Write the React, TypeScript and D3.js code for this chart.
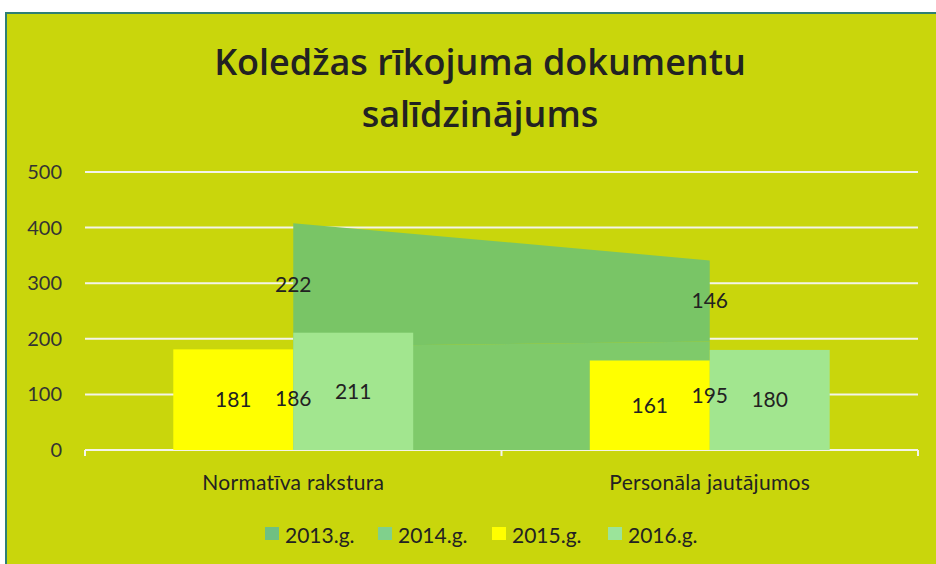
import React from "react";
import * as d3 from "d3";

const categories = ["Normatīva rakstura", "Personāla jautājumos"];
const areaKeys = ["2013.g.", "2014.g."];
const barKeys = ["2015.g.", "2016.g."];
const values2013 = [186, 195];
const values2014 = [222, 146];
const values2015 = [181, 161];
const values2016 = [211, 180];
const yTicks = [0, 100, 200, 300, 400, 500];
const titleLines = ["Koledžas rīkojuma dokumentu", "salīdzinājums"];
const legendLabels = ["2013.g.", "2014.g.", "2015.g.", "2016.g."];

const W = 936;
const H = 564;
const BG = "#c9d60c";
const colors: Record<string, string> = {
  "2013.g.": "#7fca6a",
  "2014.g.": "#79c566",
  "2015.g.": "#ffff00",
  "2016.g.": "#a2e68f",
};
const legendColors: Record<string, string> = {
  "2013.g.": "#6fc082",
  "2014.g.": "#80d08c",
  "2015.g.": "#ffff00",
  "2016.g.": "#9be49a",
};
const FONT = "Lato, 'Open Sans', sans-serif";
const TFONT = "'Open Sans', Lato, sans-serif";

export default function App() {
  const x = d3.scaleBand<string>().domain(categories).range([85, 918]).padding(0);
  const y = d3.scaleLinear().domain([0, 500]).range([450, 172]);
  const bw = x.bandwidth();
  const cx = (c: string) => (x(c) as number) + bw / 2;
  const barHalf = bw * 0.288;
  const innerFor = (c: string) =>
    d3.scaleBand<string>().domain(barKeys).range([cx(c) - barHalf, cx(c) + barHalf]);

  const rows = categories.map((c, i) => ({
    cat: c,
    "2013.g.": values2013[i],
    "2014.g.": values2014[i],
    "2015.g.": values2015[i],
    "2016.g.": values2016[i],
  }));
  const stack = d3.stack<any>().keys(areaKeys);
  const series = stack(rows);
  const area = d3
    .area<any>()
    .x((d) => cx(d.data.cat))
    .y0((d) => y(d[0]))
    .y1((d) => y(d[1]));

  const legendX = [265, 378, 492, 608];

  return (
    <svg width={W} height={H} style={{ position: "absolute", left: 0, top: 0 }}>
      <rect x={0} y={0} width={W} height={H} fill="#ffffff" />
      <rect x={6} y={13} width={W + 20} height={H + 20} fill={BG} stroke="#2f7f74" strokeWidth={2} />
      {titleLines.map((t, i) => (
        <text
          key={t}
          x={480}
          y={75 + i * 52}
          textAnchor="middle"
          fontFamily={TFONT}
          fontWeight={600}
          fontSize={36}
          fill="#222"
        >
          {t}
        </text>
      ))}
      {yTicks.map((t) => (
        <g key={t}>
          <line x1={85} x2={918} y1={y(t)} y2={y(t)} stroke="#f4f4e8" strokeWidth={2} />
          <text
            x={62}
            y={y(t)}
            dy="0.35em"
            textAnchor="end"
            fontFamily={FONT}
            fontSize={20}
            fill="#333"
          >
            {t}
          </text>
        </g>
      ))}
      {[85, 501.5, 918].map((tx) => (
        <line key={tx} x1={tx} x2={tx} y1={y(0)} y2={y(0) + 6} stroke="#f4f4e8" strokeWidth={2} />
      ))}
      {series.map((s) => (
        <path key={s.key} d={area(s) as string} fill={colors[s.key]} />
      ))}
      {categories.map((c, i) => {
        const inner = innerFor(c);
        const vals = [values2015[i], values2016[i]];
        return barKeys.map((k, j) => (
          <rect
            key={c + k}
            x={inner(k)}
            y={y(vals[j])}
            width={inner.bandwidth()}
            height={y(0) - y(vals[j])}
            fill={colors[k]}
          />
        ));
      })}
      {series.map((s) =>
        s.map((d: any) => (
          <text
            key={s.key + d.data.cat}
            x={cx(d.data.cat)}
            y={y((d[0] + d[1]) / 2)}
            dy="0.35em"
            textAnchor="middle"
            fontFamily={FONT}
            fontSize={21}
            fill="#222"
          >
            {d[1] - d[0]}
          </text>
        ))
      )}
      {categories.map((c, i) => {
        const inner = innerFor(c);
        const vals = [values2015[i], values2016[i]];
        return barKeys.map((k, j) => (
          <text
            key={"l" + c + k}
            x={(inner(k) as number) + inner.bandwidth() / 2}
            y={y(vals[j] / 2)}
            dy="0.35em"
            textAnchor="middle"
            fontFamily={FONT}
            fontSize={21}
            fill="#222"
          >
            {vals[j]}
          </text>
        ));
      })}
      {categories.map((c) => (
        <text
          key={c}
          x={cx(c)}
          y={490}
          textAnchor="middle"
          fontFamily={FONT}
          fontSize={21}
          letterSpacing={0.3}
          fill="#222"
        >
          {c}
        </text>
      ))}
      {legendLabels.map((l, i) => (
        <g key={l}>
          <rect x={legendX[i]} y={527} width={14} height={13} fill={legendColors[l]} />
          <text
            x={legendX[i] + 20}
            y={543}
            fontFamily={FONT}
            fontSize={21}
            fill="#222"
          >
            {l}
          </text>
        </g>
      ))}
    </svg>
  );
}
